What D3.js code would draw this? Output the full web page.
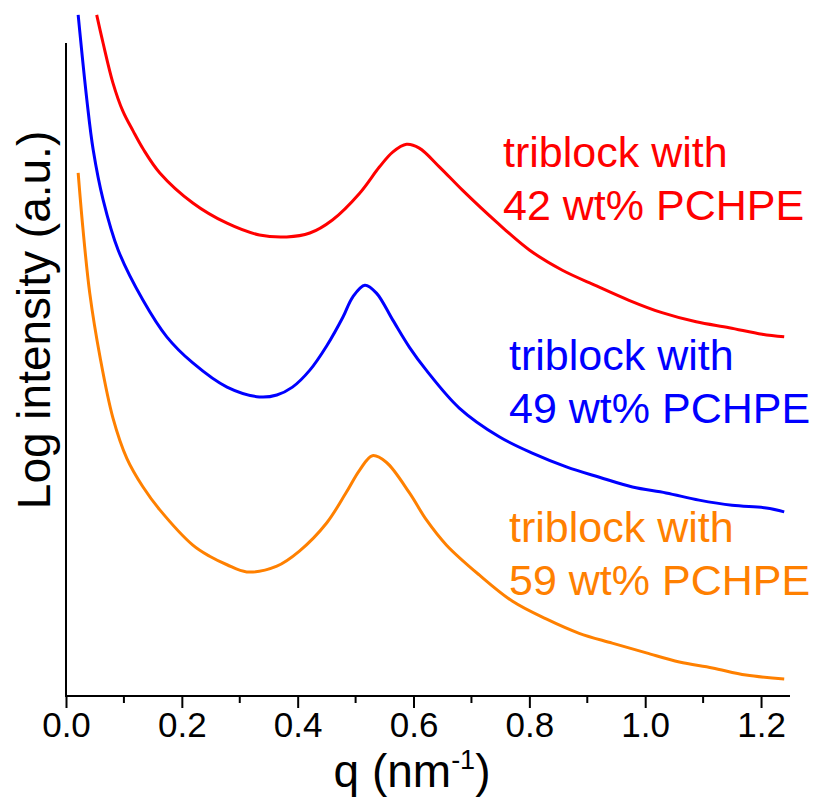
<!DOCTYPE html>
<html>
<head>
<meta charset="utf-8">
<script src="https://cdn.jsdelivr.net/npm/d3@7"></script>
<style>
  body { margin: 0; background: #fff; }
  text { font-family: "Liberation Sans", Arial, Helvetica, sans-serif; }
</style>
</head>
<body>
<div id="chart"></div>
<script>
// SAXS curves, q in nm^-1, intensity on an arbitrary log scale (offset curves)
var q42 = [0.053, 0.064, 0.081, 0.098, 0.116, 0.133, 0.162, 0.219, 0.278, 0.334, 0.381, 0.421, 0.460, 0.507, 0.541, 0.564, 0.588, 0.610, 0.645, 0.684, 0.743, 0.800, 0.857, 0.916, 0.972, 1.029, 1.088, 1.145, 1.202, 1.240];
var i42 = [104.3, 100.0, 93.9, 89.6, 86.5, 83.8, 80.1, 75.5, 72.4, 70.6, 70.3, 70.9, 72.9, 77.0, 81.0, 83.3, 84.5, 83.9, 81.0, 77.5, 72.6, 68.3, 65.2, 62.8, 60.6, 58.7, 57.3, 56.4, 55.4, 55.0];

var q49 = [0.021, 0.036, 0.047, 0.064, 0.090, 0.133, 0.174, 0.219, 0.278, 0.334, 0.364, 0.391, 0.421, 0.450, 0.478, 0.495, 0.516, 0.536, 0.564, 0.593, 0.622, 0.679, 0.748, 0.805, 0.864, 0.921, 0.978, 1.036, 1.093, 1.150, 1.209, 1.240];
var i49 = [104.3, 91.3, 83.6, 76.0, 68.3, 60.6, 55.0, 51.0, 47.3, 45.8, 46.1, 47.3, 49.9, 53.6, 58.0, 61.1, 62.9, 61.7, 57.6, 53.4, 49.9, 44.1, 39.7, 37.2, 35.1, 33.5, 32.0, 31.1, 30.0, 29.2, 28.8, 28.2];

var q59 = [0.021, 0.029, 0.041, 0.059, 0.081, 0.105, 0.133, 0.162, 0.219, 0.248, 0.278, 0.312, 0.364, 0.403, 0.450, 0.484, 0.507, 0.529, 0.553, 0.593, 0.622, 0.657, 0.714, 0.771, 0.829, 0.886, 0.943, 1.002, 1.059, 1.116, 1.174, 1.240];
var i59 = [80.1, 71.8, 61.7, 51.8, 42.6, 36.4, 32.0, 28.5, 23.1, 21.4, 20.1, 19.0, 19.9, 22.2, 26.5, 31.2, 34.6, 36.8, 35.8, 31.1, 27.0, 23.1, 18.5, 14.5, 11.8, 9.6, 8.1, 6.6, 5.2, 4.3, 3.2, 2.6];

var xTicks = [0, 0.2, 0.4, 0.6, 0.8, 1.0, 1.2];
var xMinor = [0.1, 0.3, 0.5, 0.7, 0.9, 1.1];

var series = [
  { q: q42, y: i42, color: '#ff0000', label: ['triblock with', '42 wt% PCHPE'], lx: 503, ly: 167 },
  { q: q49, y: i49, color: '#0000ff', label: ['triblock with', '49 wt% PCHPE'], lx: 509, ly: 370 },
  { q: q59, y: i59, color: '#ff8000', label: ['triblock with', '59 wt% PCHPE'], lx: 509, ly: 542 }
];

var W = 821, H = 802;
var mLeft = 66, mRight = 790, mTop = 43, mBottom = 696;

var svg = d3.select('#chart').append('svg')
  .attr('width', W)
  .attr('height', H);

var x = d3.scaleLinear().domain([0, 1.25]).range([mLeft, mRight]);
var y = d3.scaleLinear().domain([0, 100]).range([mBottom, mTop]);

var line = d3.line()
  .x(function(d) { return x(d[0]); })
  .y(function(d) { return y(d[1]); })
  .curve(d3.curveCatmullRom.alpha(0.5));

series.forEach(function(s) {
  var pts = s.q.map(function(v, i) { return [v, s.y[i]]; });
  svg.append('path')
    .datum(pts)
    .attr('d', line)
    .attr('fill', 'none')
    .attr('stroke', s.color)
    .attr('stroke-width', 3);

  var t = svg.append('text')
    .attr('x', s.lx)
    .attr('y', s.ly)
    .attr('fill', s.color)
    .style('font-size', '43px');
  t.append('tspan').attr('x', s.lx).text(s.label[0]);
  t.append('tspan').attr('x', s.lx).attr('dy', 53).text(s.label[1]);
});

// x axis
var xAxis = svg.append('g')
  .attr('transform', 'translate(0,' + mBottom + ')')
  .call(d3.axisBottom(x).tickValues(xTicks).tickSize(12).tickPadding(4)
    .tickFormat(d3.format('.1f')));
xAxis.select('.domain').attr('stroke-width', 2).attr('d', 'M' + mLeft + ',0H' + mRight);
xAxis.selectAll('.tick line').attr('stroke-width', 2);
xAxis.selectAll('.tick text')
  .style('font-size', '35px')
  .style('font-family', '"Liberation Sans", Arial, sans-serif')
  .attr('fill', '#000');

svg.append('g')
  .selectAll('line')
  .data(xMinor)
  .join('line')
  .attr('x1', function(d) { return x(d); })
  .attr('x2', function(d) { return x(d); })
  .attr('y1', mBottom)
  .attr('y2', mBottom + 7)
  .attr('stroke', '#000')
  .attr('stroke-width', 2);

// y axis, no ticks
svg.append('line')
  .attr('x1', mLeft).attr('x2', mLeft)
  .attr('y1', mTop).attr('y2', mBottom + 1)
  .attr('stroke', '#000')
  .attr('stroke-width', 2);

// axis titles
var xt = svg.append('text')
  .attr('x', 412)
  .attr('y', 787)
  .attr('text-anchor', 'middle')
  .style('font-size', '46px');
xt.append('tspan').text('q (nm');
xt.append('tspan').attr('dy', -18).style('font-size', '27px').text('-1');
xt.append('tspan').attr('dy', 18).text(')');

svg.append('text')
  .attr('transform', 'translate(50,320) rotate(-90)')
  .attr('text-anchor', 'middle')
  .style('font-size', '46px')
  .text('Log intensity (a.u.)');
</script>
</body>
</html>
